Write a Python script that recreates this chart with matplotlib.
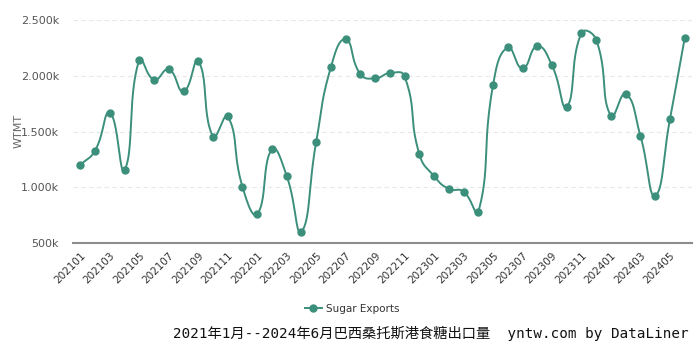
import numpy as np
import matplotlib
matplotlib.use("Agg")
import matplotlib.pyplot as plt
from matplotlib.lines import Line2D

# Monthly sugar exports via the port of Santos (thousand tonnes)
months = [f"{y}{m:02d}" for y in (2021, 2022, 2023, 2024) for m in range(1, 13)][:42]
exports = [1200, 1329, 1668, 1156, 2144, 1964, 2057, 1859, 2132, 1455, 1635, 1003,
           760, 1341, 1102, 602, 1407, 2078, 2326, 2015, 1976, 2024, 1994, 1296,
           1099, 985, 961, 778, 1916, 2254, 2066, 2266, 2093, 1722, 2383, 2323,
           1638, 1838, 1461, 925, 1608, 2335]
y_ticks = [500, 1000, 1500, 2000, 2500]
y_tick_labels = ["500k", "1.000k", "1.500k", "2.000k", "2.500k"]
series_name = "Sugar Exports"
title = "2021年1月--2024年6月巴西桑托斯港食糖出口量  yntw.com by DataLiner"

color = "#3b8f7b"


def smooth(xs, ys, sx=1.0, sy=1.0, amount=0.5, n=24):
    """Bezier smoothing with control points scaled by neighbouring segment lengths."""
    P = np.column_stack([np.asarray(xs, float) * sx, np.asarray(ys, float) * sy])
    m = len(P)
    cps = []
    for i in range(m):
        prev = P[max(i - 1, 0)]
        nxt = P[min(i + 1, m - 1)]
        v = nxt - prev
        d0 = np.linalg.norm(P[i] - prev)
        d1 = np.linalg.norm(nxt - P[i])
        tot = d0 + d1 if d0 + d1 > 0 else 1.0
        cin = P[i] - v * amount * d0 / tot
        cout = P[i] + v * amount * d1 / tot
        cps.append((cin, cout))
    out = []
    t = np.linspace(0, 1, n, endpoint=False)[:, None]
    for i in range(m - 1):
        p0, p3 = P[i], P[i + 1]
        c1, c2 = cps[i][1], cps[i + 1][0]
        seg = (1 - t) ** 3 * p0 + 3 * t * (1 - t) ** 2 * c1 + 3 * t ** 2 * (1 - t) * c2 + t ** 3 * p3
        out.append(seg)
    out.append(P[-1:])
    out = np.vstack(out)
    return out[:, 0] / sx, out[:, 1] / sy


fig = plt.figure(figsize=(7, 3.5), dpi=100)
ax = fig.add_axes([73 / 700, 1 - 243 / 350, (692 - 73) / 700, (243 - 20) / 350])

x = np.arange(len(months))
# scale to screen pixels so segment lengths are measured as drawn
px_per_cat = (692 - 73) / len(months)
px_per_unit = (243 - 20) / 2000
lx, ly = smooth(x, exports, sx=px_per_cat, sy=px_per_unit, amount=0.5)
ax.plot(lx, ly, color=color, lw=1.4, zorder=3, clip_on=False)
ax.plot(x, exports, "o", color=color, ms=5, zorder=4, clip_on=False)

ax.set_xlim(-0.5, len(months) - 0.5)
ax.set_ylim(500, 2500)
ax.set_yticks(y_ticks)
ax.set_yticklabels(y_tick_labels)
ax.set_xticks(x[::2])
ax.set_xticklabels(months[::2], rotation=45, ha="right", rotation_mode="anchor")

for v in y_ticks[1:]:
    ax.axhline(v, color="#e8e8e8", lw=0.8, ls=(0, (4, 3)), zorder=1)

for s in ("top", "right", "left"):
    ax.spines[s].set_visible(False)
ax.spines["bottom"].set_color("#8c8c8c")
ax.spines["bottom"].set_linewidth(1.5)
ax.tick_params(axis="y", length=0, labelsize=8, labelcolor="#555555", pad=10)
ax.tick_params(axis="x", length=0, labelsize=7.5, labelcolor="#333333", pad=5)

fig.text(19 / 700, 1 - 131 / 350, "WTMT", rotation=90, ha="center", va="center",
         fontsize=8, color="#666666")

handle = Line2D([0], [0], color=color, lw=1.4, marker="o", ms=5)
fig.legend([handle], [series_name], loc="center", bbox_to_anchor=(352 / 700, 1 - 309 / 350),
           frameon=False, fontsize=7.5, handlelength=1.6, handletextpad=0.4,
           labelcolor="#333333")

fig.text(689 / 700, 1 - 333 / 350, title, ha="right", va="center", fontsize=10.3,
         family=["DejaVu Sans Mono", "Noto Sans CJK SC"], color="#111111")

fig.savefig("out.png", dpi=100)
